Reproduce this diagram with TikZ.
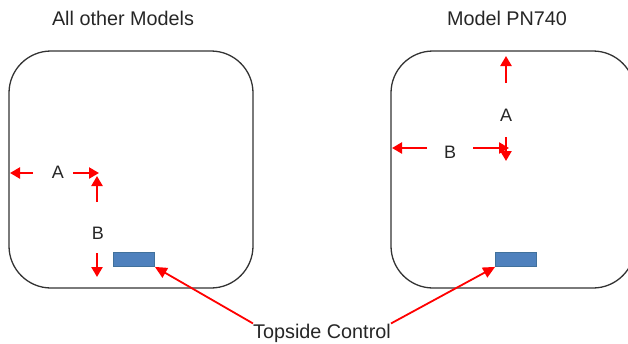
\documentclass[tikz,border=0pt]{standalone}
\usepackage{fontspec}
\setmainfont{Liberation Sans}
\usetikzlibrary{arrows.meta}
\definecolor{boxblue}{HTML}{4F81BD}
\definecolor{boxedge}{HTML}{41719C}
\definecolor{txt}{HTML}{262626}
\begin{document}
\begin{tikzpicture}[x=1pt,y=-1pt,
 unit/.style={draw=black!80, line width=1.3pt, rounded corners=42pt, minimum width=244pt, minimum height=237pt, inner sep=0pt},
 ctrl/.style={draw=boxedge, fill=boxblue, line width=0.8pt, minimum width=41pt, minimum height=14pt, inner sep=0pt},
 dim/.style={red, line width=2.3pt, -{Triangle[length=10pt,width=11pt]}},
 lbl/.style={font=\fontsize{18}{21}\selectfont, inner sep=0pt, text=txt, anchor=base},
 ttl/.style={font=\fontsize{19.8}{23}\selectfont, inner sep=0pt, text=txt, anchor=base},
 pointer/.style={red, line width=1.8pt, -{Triangle[length=12pt,width=11pt]}},
]
\clip (0,0) rectangle (628,343);
% titles
\node[ttl] (t1) at (123,25) {All other Models};
\node[ttl] (t2) at (507,25) {Model PN740};
% units
\node[unit] (u1) at (131,169.5) {};
\node[unit] (u2) at (513,169.5) {};
% controls
\node[ctrl] (c1) at (134,259.5) {};
\node[ctrl] (c2) at (516,259.5) {};
% caption
\node[ttl] (tc) at (322,338) {Topside Control};
\draw[pointer] (tc.north west) -- (c1.south east);
\draw[pointer] (tc.north east) -- (c2.south west);
% left unit dimensions
\node[lbl] (a1) at (58,178) {A};
\node[lbl] (b1) at (98,239) {B};
\coordinate (a1l0) at (33,173);
\coordinate (a1l1) at (10,173);
\coordinate (a1r0) at (73,173);
\coordinate (a1r1) at (99,173);
\coordinate (b1u0) at (97,202);
\coordinate (b1u1) at (97,176);
\coordinate (b1d0) at (97,253);
\coordinate (b1d1) at (97,277);
\draw[dim] (a1l0) -- (a1l1);
\draw[dim] (a1r0) -- (a1r1);
\draw[dim] (b1u0) -- (b1u1);
\draw[dim] (b1d0) -- (b1d1);
% right unit dimensions
\node[lbl] (a2) at (506,121) {A};
\node[lbl] (b2) at (450,158) {B};
\coordinate (a2u0) at (506,83);
\coordinate (a2u1) at (506,56);
\coordinate (a2d0) at (506,137);
\coordinate (a2d1) at (506,161);
\coordinate (b2l0) at (427,148);
\coordinate (b2l1) at (392,148);
\coordinate (b2r0) at (473,148);
\coordinate (b2r1) at (509,148);
\draw[dim] (a2u0) -- (a2u1);
\draw[dim] (a2d0) -- (a2d1);
\draw[dim] (b2l0) -- (b2l1);
\draw[dim] (b2r0) -- (b2r1);
\end{tikzpicture}
\end{document}
